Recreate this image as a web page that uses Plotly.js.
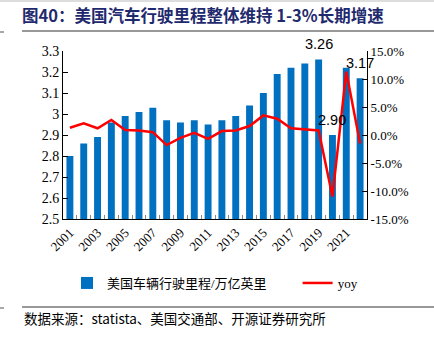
<!DOCTYPE html>
<html><head><meta charset="utf-8">
<script src="https://cdn.plot.ly/plotly-3.0.1.min.js"></script>
<style>html,body{margin:0;padding:0;background:#fff;}#chart{width:434px;height:338px;}</style>
</head><body><div id="chart"></div>
<script>
const years = ['2001','2002','2003','2004','2005','2006','2007','2008','2009','2010','2011','2012','2013','2014','2015','2016','2017','2018','2019','2020','2021','2022'];
const miles = [2.80,2.86,2.89,2.96,2.99,3.01,3.03,2.97,2.96,2.97,2.95,2.97,2.99,3.04,3.10,3.19,3.22,3.24,3.26,2.90,3.22,3.17];
const yoy = [1.3,2.1,1.2,2.7,0.9,0.8,0.5,-1.8,-0.5,0.4,-0.7,0.7,0.8,1.6,3.5,2.9,1.2,0.95,0.8,-11.0,11.3,-1.5];
const labeledYears = ['2019','2020','2022'];
const xTickText = ['2001','','2003','','2005','','2007','','2009','','2011','','2013','','2015','','2017','','2019','','2021',''];
const y2TickVals = [-15,-10,-5,0,5,10,15];
const y2TickText = ['-15.0%','-10.0%','-5.0%','0.0%','5.0%','10.0%','15.0%'];
const seriesNames = ['美国车辆行驶里程/万亿英里','yoy'];
const titleText = '图40：美国汽车行驶里程整体维持 1-3%长期增速';
const sourceText = '数据来源：statista、美国交通部、开源证券研究所';

const serif = '"Liberation Serif", "Noto Sans CJK SC", serif';
const pad = '\u00a0'.repeat(8);

const traces = [
  {type:'bar', x:years, y:miles, name:seriesNames[0] + pad, marker:{color:'#0070C0'},
   hoverinfo:'skip'},
  {type:'scatter', mode:'lines', x:years, y:yoy, name:seriesNames[1], yaxis:'y2',
   line:{color:'#FF0000', width:2.5}, hoverinfo:'skip'}
];

const valueLabels = years.map((y,i)=> labeledYears.includes(y) ? {
  x:i, y:miles[i], xref:'x', yref:'y', text:miles[i].toFixed(2), showarrow:false,
  yanchor:'bottom', yshift:5, font:{family:'"Liberation Sans", Arial, sans-serif', size:14.5, color:'#000'}
} : null).filter(a=>a);

const layout = {
  width:434, height:338,
  margin:{l:63, r:67, t:51, b:119},
  paper_bgcolor:'#fff', plot_bgcolor:'#fff',
  bargap:0.5,
  showlegend:true,
  legend:{orientation:'h', x:0.5, xanchor:'center', y:(219-283)/168, yanchor:'middle',
    font:{family:serif, size:13, color:'#000'}, itemwidth:30, tracegroupgap:0},
  title:{text:'<b>'+titleText+'</b>', xref:'container', yref:'container', x:22/434, xanchor:'left',
    y:1-16/338, yanchor:'middle', font:{family:'"Noto Sans CJK SC", serif', size:16.5, color:'#1F2A6E'}},
  font:{family:serif, size:13, color:'#000'},
  xaxis:{type:'category', range:[-0.5, years.length-0.5], autorange:false, tickmode:'array', tickvals:years, ticktext:xTickText, tickangle:-45,
    ticks:'inside', ticklen:4, tickson:'boundaries', tickcolor:'#888', showline:true, linecolor:'#000',
    linewidth:1, showgrid:false, zeroline:false, tickfont:{family:serif, size:13, color:'#000'}},
  yaxis:{range:[2.5,3.3], dtick:0.1, tick0:2.5, ticks:'inside', ticklen:5, tickcolor:'#000',
    showline:true, linecolor:'#000', showgrid:false, zeroline:false,
    tickfont:{family:serif, size:14, color:'#000'}},
  yaxis2:{overlaying:'y', side:'right', range:[-15,15], tickmode:'array', tickvals:y2TickVals,
    ticktext:y2TickText, ticks:'inside', ticklen:5, tickcolor:'#000', showline:true, linecolor:'#000',
    showgrid:false, zeroline:false, tickfont:{family:serif, size:13, color:'#000'}},
  shapes:[
    {type:'line', xref:'paper', yref:'paper', x0:-63/304, x1:(434-63)/304, y0:(338-119-1)/168, y1:(338-119-1)/168, line:{color:'#bbb', width:1}},
    {type:'line', xref:'paper', yref:'paper', x0:(22-63)/304, x1:(434-63)/304, y0:(219-31)/168, y1:(219-31)/168, line:{color:'#333', width:1}},
    {type:'line', xref:'paper', yref:'paper', x0:-63/304, x1:(4-63)/304, y0:(219-32)/168, y1:(219-32)/168, line:{color:'#555', width:1}},
    {type:'line', xref:'paper', yref:'paper', x0:(22-63)/304, x1:(434-63)/304, y0:(219-307)/168, y1:(219-307)/168, line:{color:'#333', width:1}},
    {type:'line', xref:'paper', yref:'paper', x0:-63/304, x1:(4-63)/304, y0:(219-308)/168, y1:(219-308)/168, line:{color:'#555', width:1}}
  ],
  annotations:[
    {text:sourceText, xref:'paper', yref:'paper', x:(22-63)/304, xanchor:'left', y:(219-318)/168, yanchor:'middle',
     showarrow:false, font:{family:'"Noto Sans CJK SC", serif', size:13.5, color:'#000'}}
  ].concat(valueLabels)
};
Plotly.newPlot('chart', traces, layout, {staticPlot:true, displayModeBar:false});
</script></body></html>
